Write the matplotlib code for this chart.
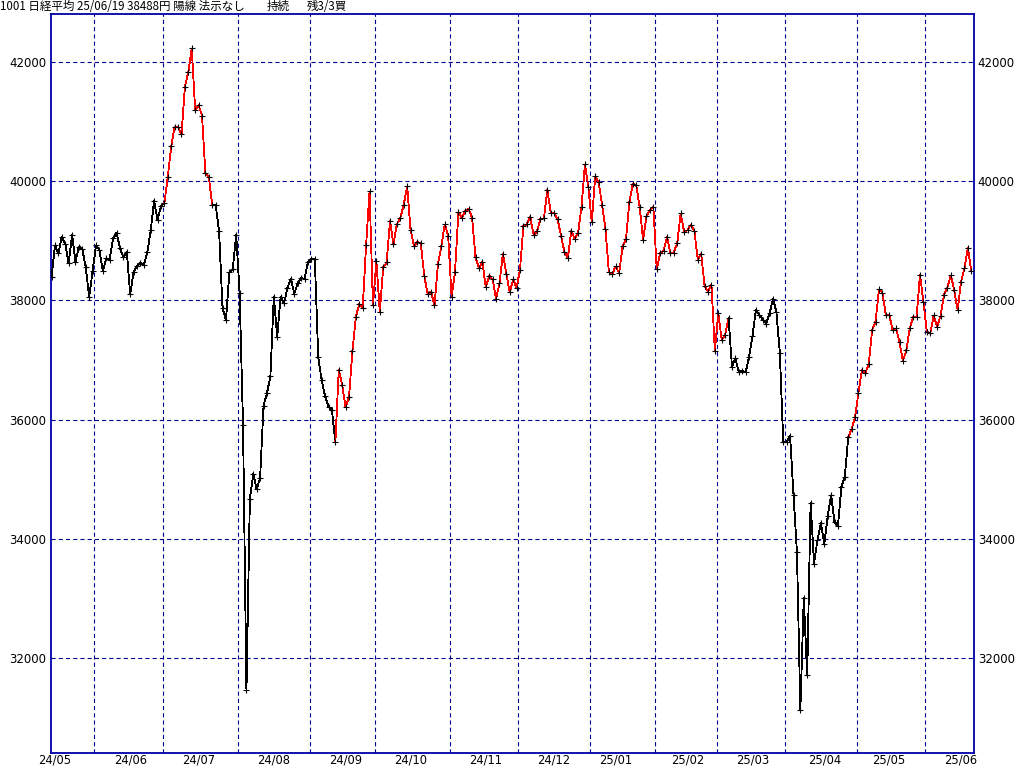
import matplotlib
matplotlib.use("Agg")
import matplotlib.pyplot as plt
from matplotlib.collections import LineCollection
import numpy as np

plt.rcParams['lines.scale_dashes'] = False

# ---------------- data ----------------
dates = [
    "24/05/15", "24/05/16", "24/05/17", "24/05/20", "24/05/21", "24/05/22", "24/05/23", "24/05/24", "24/05/27", "24/05/28", "24/05/29", "24/05/30", "24/05/31",
    "24/06/03", "24/06/04", "24/06/05", "24/06/06", "24/06/07", "24/06/10", "24/06/11", "24/06/12", "24/06/13", "24/06/14", "24/06/17", "24/06/18", "24/06/19", "24/06/20", "24/06/21", "24/06/24", "24/06/25", "24/06/26", "24/06/27", "24/06/28",
    "24/07/01", "24/07/02", "24/07/03", "24/07/04", "24/07/05", "24/07/08", "24/07/09", "24/07/10", "24/07/11", "24/07/12", "24/07/16", "24/07/17", "24/07/18", "24/07/19", "24/07/22", "24/07/23", "24/07/24", "24/07/25", "24/07/26", "24/07/29", "24/07/30", "24/07/31",
    "24/08/01", "24/08/02", "24/08/05", "24/08/06", "24/08/07", "24/08/08", "24/08/09", "24/08/13", "24/08/14", "24/08/15", "24/08/16", "24/08/19", "24/08/20", "24/08/21", "24/08/22", "24/08/23", "24/08/26", "24/08/27", "24/08/28", "24/08/29", "24/08/30",
    "24/09/02", "24/09/03", "24/09/04", "24/09/05", "24/09/06", "24/09/09", "24/09/10", "24/09/11", "24/09/12", "24/09/13", "24/09/17", "24/09/18", "24/09/19", "24/09/20", "24/09/24", "24/09/25", "24/09/26", "24/09/27", "24/09/30",
    "24/10/01", "24/10/02", "24/10/03", "24/10/04", "24/10/07", "24/10/08", "24/10/09", "24/10/10", "24/10/11", "24/10/15", "24/10/16", "24/10/17", "24/10/18", "24/10/21", "24/10/22", "24/10/23", "24/10/24", "24/10/25", "24/10/28", "24/10/29", "24/10/30", "24/10/31",
    "24/11/01", "24/11/05", "24/11/06", "24/11/07", "24/11/08", "24/11/11", "24/11/12", "24/11/13", "24/11/14", "24/11/15", "24/11/18", "24/11/19", "24/11/20", "24/11/21", "24/11/22", "24/11/25", "24/11/26", "24/11/27", "24/11/28", "24/11/29",
    "24/12/02", "24/12/03", "24/12/04", "24/12/05", "24/12/06", "24/12/09", "24/12/10", "24/12/11", "24/12/12", "24/12/13", "24/12/16", "24/12/17", "24/12/18", "24/12/19", "24/12/20", "24/12/23", "24/12/24", "24/12/25", "24/12/26", "24/12/27", "24/12/30",
    "25/01/06", "25/01/07", "25/01/08", "25/01/09", "25/01/10", "25/01/14", "25/01/15", "25/01/16", "25/01/17", "25/01/20", "25/01/21", "25/01/22", "25/01/23", "25/01/24", "25/01/27", "25/01/28", "25/01/29", "25/01/30", "25/01/31",
    "25/02/03", "25/02/04", "25/02/05", "25/02/06", "25/02/07", "25/02/10", "25/02/12", "25/02/13", "25/02/14", "25/02/17", "25/02/18", "25/02/19", "25/02/20", "25/02/21", "25/02/25", "25/02/26", "25/02/27", "25/02/28",
    "25/03/03", "25/03/04", "25/03/05", "25/03/06", "25/03/07", "25/03/10", "25/03/11", "25/03/12", "25/03/13", "25/03/14", "25/03/17", "25/03/18", "25/03/19", "25/03/21", "25/03/24", "25/03/25", "25/03/26", "25/03/27", "25/03/28", "25/03/31",
    "25/04/01", "25/04/02", "25/04/03", "25/04/04", "25/04/07", "25/04/08", "25/04/09", "25/04/10", "25/04/11", "25/04/14", "25/04/15", "25/04/16", "25/04/17", "25/04/18", "25/04/21", "25/04/22", "25/04/23", "25/04/24", "25/04/25", "25/04/28", "25/04/30",
    "25/05/01", "25/05/02", "25/05/07", "25/05/08", "25/05/09", "25/05/12", "25/05/13", "25/05/14", "25/05/15", "25/05/16", "25/05/19", "25/05/20", "25/05/21", "25/05/22", "25/05/23", "25/05/26", "25/05/27", "25/05/28", "25/05/29", "25/05/30",
    "25/06/02", "25/06/03", "25/06/04", "25/06/05", "25/06/06", "25/06/09", "25/06/10", "25/06/11", "25/06/12", "25/06/13", "25/06/16", "25/06/17", "25/06/18", "25/06/19",
]

closes = [
    38385, 38920, 38787, 39069, 38946, 38617, 39103, 38646, 38900, 38855, 38556, 38054, 38487,
    38923, 38837, 38490, 38703, 38683, 39038, 39134, 38876, 38720, 38814, 38102, 38482, 38570, 38633, 38596, 38804, 39173, 39667, 39341, 39583,
    39631, 40074, 40580, 40913, 40912, 40780, 41580, 41831, 42224, 41190, 41275, 41097, 40126, 40063, 39599, 39594, 39154, 37869, 37667, 38468, 38526, 39101,
    38126, 35909, 31458, 34675, 35089, 34831, 35025, 36232, 36442, 36726, 38062, 37388, 38062, 37951, 38211, 38364, 38110, 38288, 38371, 38362, 38647,
    38700, 38686, 37047, 36657, 36391, 36215, 36159, 35619, 36833, 36581, 36203, 36380, 37155, 37723, 37940, 37870, 38925, 39829, 37919,
    38651, 37808, 38552, 38635, 39332, 38937, 39277, 39380, 39605, 39910, 39180, 38911, 38981, 38954, 38411, 38104, 38143, 37913, 38605, 38903, 39277, 39081,
    38053, 38474, 39480, 39381, 39500, 39533, 39376, 38721, 38535, 38642, 38220, 38414, 38352, 38026, 38283, 38780, 38442, 38134, 38349, 38208,
    38513, 39248, 39276, 39395, 39091, 39160, 39367, 39372, 39849, 39470, 39457, 39364, 39081, 38813, 38701, 39161, 39036, 39130, 39568, 40281, 39894,
    39307, 40083, 39981, 39605, 39190, 38474, 38444, 38572, 38451, 38902, 39027, 39646, 39958, 39931, 39565, 39016, 39414, 39513, 39572,
    38520, 38798, 38831, 39066, 38787, 38801, 38963, 39461, 39149, 39174, 39270, 39164, 38678, 38776, 38237, 38142, 38256, 37155,
    37785, 37331, 37418, 37704, 36887, 37028, 36793, 36819, 36790, 37053, 37396, 37845, 37751, 37677, 37608, 37780, 38027, 37799, 37120, 35617,
    35624, 35725, 34735, 33780, 31136, 33012, 31714, 34609, 33586, 33982, 34267, 33920, 34377, 34730, 34280, 34221, 34868, 35039, 35705, 35840, 36045,
    36452, 36831, 36780, 36929, 37503, 37644, 38183, 38128, 37755, 37753, 37498, 37529, 37299, 36985, 37160, 37531, 37724, 37722, 38432, 37965,
    37470, 37446, 37747, 37554, 37741, 38088, 38211, 38421, 38173, 37834, 38311, 38536, 38885, 38488,
]

# periods in which the line is drawn in red (inclusive)
red_periods = [("24/07/02", "24/07/22"), ("24/09/12", "25/03/06"), ("25/04/28", "25/06/19")]

month_labels = ["24/05", "24/06", "24/07", "24/08", "24/09", "24/10", "24/11",
                "24/12", "25/01", "25/02", "25/03", "25/04", "25/05", "25/06"]
label_dates = ["24/05/16", "24/06/17", "24/07/16", "24/08/16", "24/09/17", "24/10/16", "24/11/18",
               "24/12/16", "25/01/16", "25/02/17", "25/03/17", "25/04/16", "25/05/16", "25/06/16"]

y_ticks = [32000, 34000, 36000, 38000, 40000, 42000]
y_range = (30405, 42805)

title_main = "1001 日経平均 25/06/19 38488円 陽線 法示なし"
title_state = "持続"
title_rest = "残3/3買"

# ---------------- figure ----------------
W, H = 1024, 767
fig = plt.figure(figsize=(W / 100, H / 100), dpi=100)
fig.patch.set_facecolor("white")
L, R, T, B = 50.7, 973.7, 13.7, 753.3
ax = fig.add_axes([L / W, 1 - B / H, (R - L) / W, (B - T) / H])

x = np.arange(len(closes))
y = np.array(closes, dtype=float)

is_red = np.array([any(a <= d <= b for a, b in red_periods) for d in dates])
pts = np.column_stack([x, y])
segs = np.stack([pts[:-1], pts[1:]], axis=1)
seg_colors = ["#FF0000" if r else "#000000" for r in is_red[1:]]
lc = LineCollection(segs, colors=seg_colors, linewidths=0.6, antialiased=False, zorder=3)
ax.add_collection(lc)
ax.plot(x, y, linestyle="none", marker="+", markersize=4, markeredgewidth=0.8,
        color="black", zorder=4, antialiased=False)

# month boundaries (half step before the first trading day of each month)
grid_pos = [i - 0.5 for i in range(1, len(dates)) if dates[i][:5] != dates[i - 1][:5]]
label_pos = [dates.index(d) for d in label_dates]

ax.set_xlim(-0.25, len(dates) - 0.3)
ax.set_ylim(*y_range)

grid_color = "#00008C"
ax.set_xticks(grid_pos)
ax.set_xticklabels([])
ax.set_xticks(label_pos, minor=True)
ax.set_xticklabels(month_labels, minor=True)
ax.set_yticks(y_ticks)
ax.set_yticklabels([str(v) for v in y_ticks])

ax.grid(True, which="major", color=grid_color, linestyle=(0, (3.0, 2.2)), linewidth=0.8)
ax.set_axisbelow(True)

tick_family = ["Liberation Sans Narrow", "DejaVu Sans"]
ax.tick_params(axis="both", which="both", length=0, colors="black")
ax.tick_params(axis="y", pad=3, labelright=True, labelleft=True)
ax.tick_params(axis="x", which="minor", pad=0.3)
for lab in ax.get_yticklabels(which="both"):
    lab.set_fontfamily(tick_family)
    lab.set_fontsize(8.5)
for lab in ax.get_xticklabels(minor=True):
    lab.set_fontfamily(tick_family)
    lab.set_fontsize(8.3)

for s in ax.spines.values():
    s.set_color("#0000A8")
    s.set_linewidth(1.3)

cjk = ["Noto Sans CJK JP", "DejaVu Sans"]
fs_title = 8.3
fig.text(0 / W, 1 - 0 / H, title_main, ha="left", va="top", fontsize=fs_title, family=cjk)
fig.text(267 / W, 1 - 0 / H, title_state, ha="left", va="top", fontsize=fs_title, family=cjk)
fig.text(307 / W, 1 - 0 / H, title_rest, ha="left", va="top", fontsize=fs_title, family=cjk)

fig.savefig("out.png", dpi=100, facecolor="white")
